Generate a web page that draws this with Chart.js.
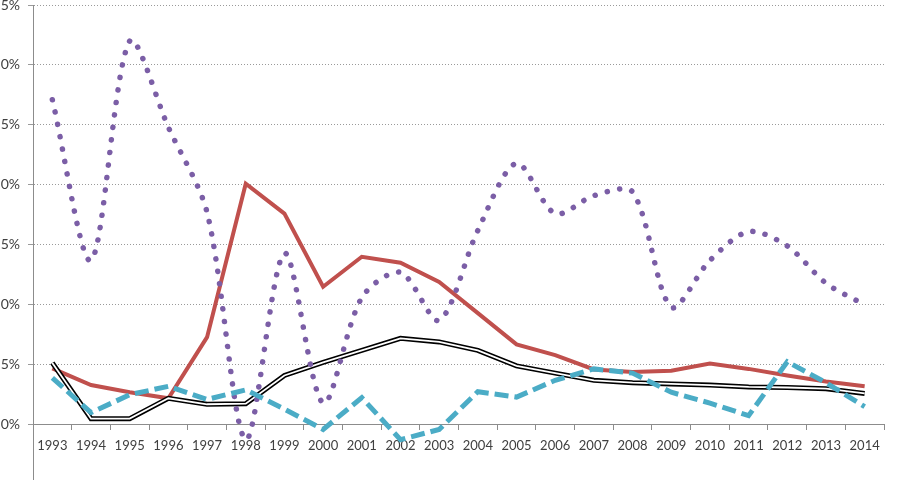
<!DOCTYPE html>
<html>
<head>
<meta charset="utf-8">
<script src="https://cdn.jsdelivr.net/npm/chart.js@4.4.1/dist/chart.umd.min.js"></script>
<style>
html, body { margin: 0; padding: 0; background: #fff; overflow: hidden; width: 905px; height: 480px; }
#wrap { position: absolute; left: -30px; top: -19px; width: 935px; height: 520px; }
</style>
</head>
<body>
<div id="wrap"><canvas id="chart"></canvas></div>
<script>
const years = ['1993', '1994', '1995', '1996', '1997', '1998', '1999', '2000', '2001', '2002', '2003',
               '2004', '2005', '2006', '2007', '2008', '2009', '2010', '2011', '2012', '2013', '2014']

// values in percent
const purpleValues = [27.1, 13.7, 32.0, 24.8, 17.7, -1.25, 14.3, 1.8, 10.6, 12.7, 8.7,
                      16.2, 21.8, 17.6, 19.1, 19.4, 9.8, 13.7, 16.1, 14.9, 11.8, 10.0]
const redValues = [4.7, 3.3, 2.7, 2.2, 7.3, 20.1, 17.6, 11.5, 14.0, 13.5, 11.9,
                   9.3, 6.7, 5.8, 4.6, 4.4, 4.5, 5.1, 4.65, 4.1, 3.6, 3.2]
const blackValues = [5.15, 0.5, 0.5, 2.2, 1.7, 1.75, 4.1, 5.2, 6.2, 7.2, 6.9,
                     6.2, 4.9, 4.3, 3.7, 3.5, 3.4, 3.3, 3.15, 3.1, 3.0, 2.6]
const cyanValues = [3.9, 1.0, 2.5, 3.2, 2.1, 2.9, 1.3, -0.4, 2.25, -1.25, -0.4,
                    2.75, 2.3, 3.7, 4.65, 4.3, 2.7, 1.8, 0.75, 5.25, 3.5, 1.5]

const yMin = -5
const yMax = 35
const yStep = 5

const xFont = { family: 'Lato', size: 13 }
const yFont = { family: 'Lato', size: 14 }
const textColor = '#404040'
const axisColor = '#8c8c8c'

const ctx = document.getElementById('chart')

new Chart(ctx, {
    type: 'line',
    data: {
        labels: years,
        datasets: [
            {
                data: cyanValues,
                borderColor: '#4bacc6',
                borderWidth: 5,
                borderDash: [14, 6],
                borderCapStyle: 'butt',
                pointRadius: 0,
                tension: 0,
                order: 1
            },
            {
                data: purpleValues,
                borderColor: '#7b5ea6',
                borderWidth: 5.5,
                borderDash: [0.1, 12.5],
                borderCapStyle: 'round',
                pointRadius: 0,
                tension: 0.3,
                order: 2
            },
            {
                // inner white stroke of the double line
                data: blackValues,
                borderColor: '#ffffff',
                borderWidth: 1.8,
                pointRadius: 0,
                tension: 0,
                order: 3
            },
            {
                data: blackValues,
                borderColor: '#000000',
                borderWidth: 5,
                pointRadius: 0,
                tension: 0,
                order: 4
            },
            {
                data: redValues,
                borderColor: '#c0504d',
                borderWidth: 4,
                pointRadius: 0,
                tension: 0,
                order: 5
            }
        ]
    },
    options: {
        responsive: true,
        maintainAspectRatio: false,
        animation: false,
        layout: {
            padding: { left: 0, top: 24, right: 21, bottom: 15 }
        },
        plugins: {
            legend: false,
            tooltip: { enabled: false }
        },
        scales: {
            x: {
                type: 'category',
                position: { y: 0 },
                offset: true,
                grid: {
                    offset: true,
                    drawOnChartArea: false,
                    drawTicks: true,
                    tickLength: 5,
                    color: axisColor
                },
                border: { display: true, color: axisColor, width: 1 },
                ticks: {
                    font: xFont,
                    color: textColor,
                    padding: 8,
                    maxRotation: 0,
                    autoSkip: false
                }
            },
            y: {
                min: yMin,
                max: yMax,
                afterFit: (scale) => { scale.width = 63 },
                grid: {
                    color: '#9a9a9a',
                    tickLength: 5,
                    lineWidth: 1
                },
                border: { display: true, color: axisColor, width: 1, dash: [1, 2] },
                ticks: {
                    stepSize: yStep,
                    font: yFont,
                    color: textColor,
                    padding: 8,
                    // the bottom label falls outside the picture
                    callback: (v) => v < 0 ? '' : v + '%'
                }
            }
        }
    }
})
</script>
</body>
</html>
